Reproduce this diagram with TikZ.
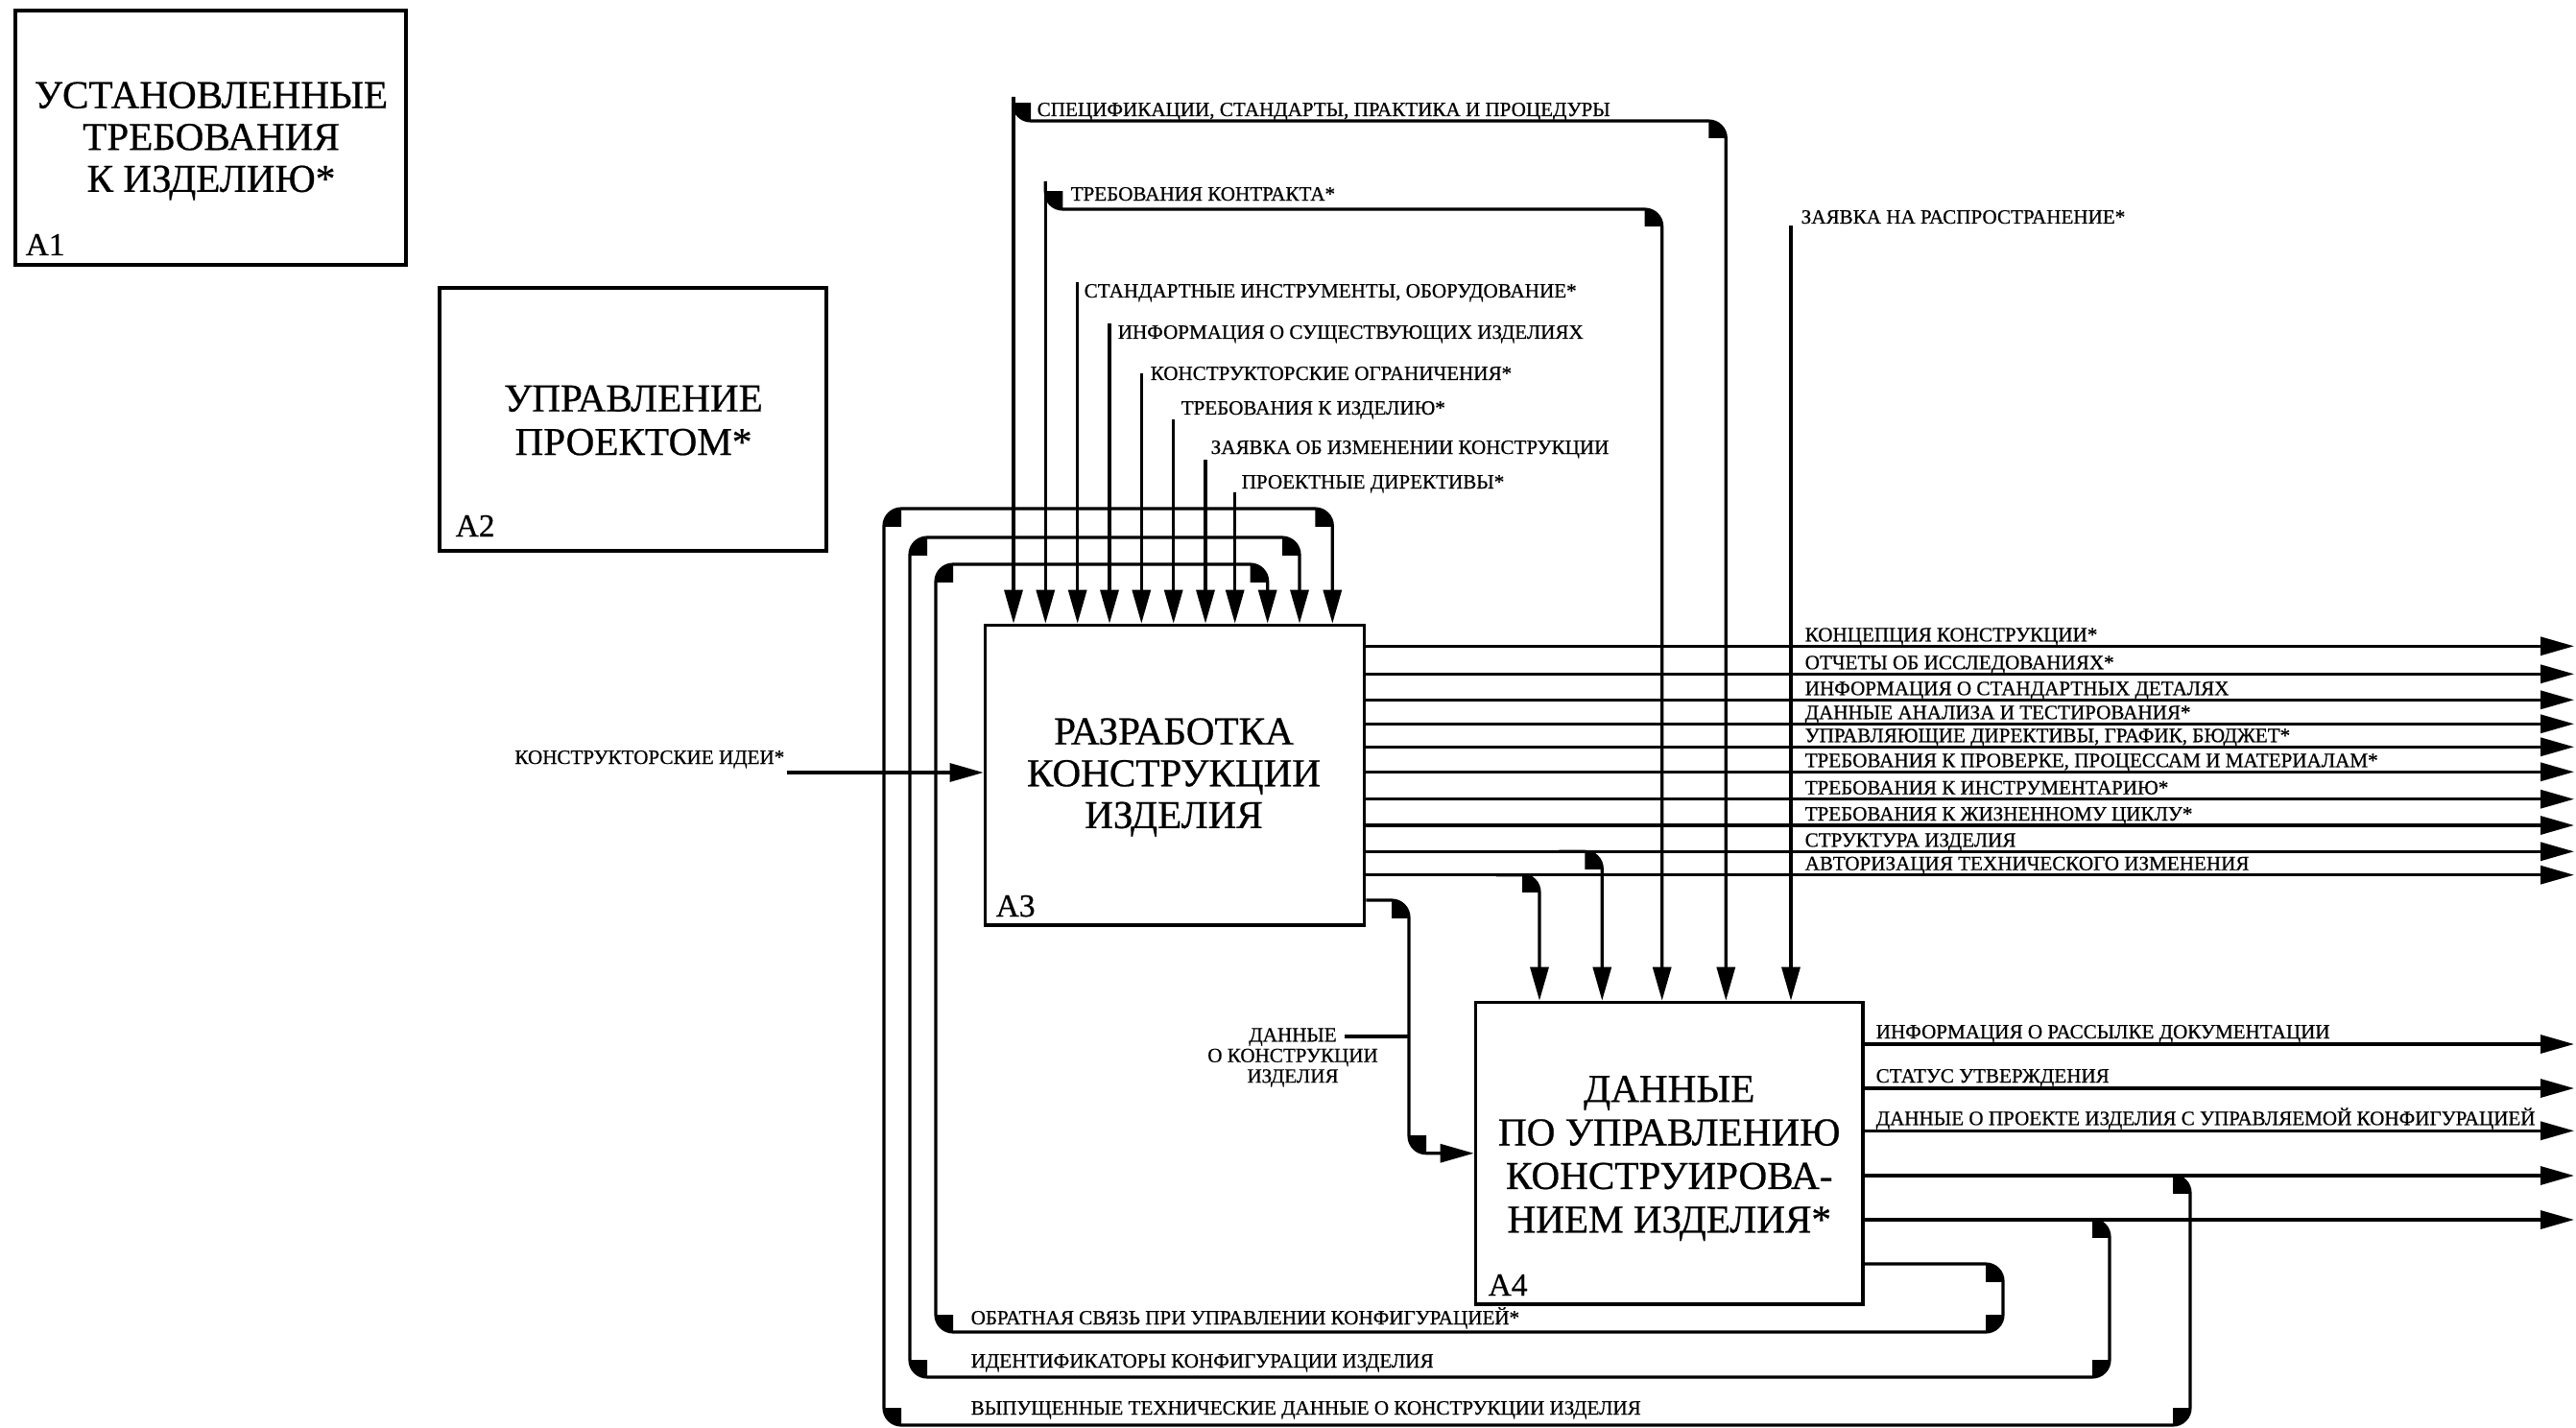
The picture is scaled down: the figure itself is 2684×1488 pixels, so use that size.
\documentclass[tikz,border=0pt]{standalone}
\usepackage{fontspec}
\setmainfont[FakeBold=0.6]{Liberation Serif}
\usetikzlibrary{arrows.meta}
\newcommand\lblf{\fontsize{6}{6.1}\selectfont}
\newcommand\ttlf{\fontsize{11.7}{12.4}\selectfont}
\newcommand\ttlfb{\fontsize{11.7}{12.9}\selectfont}
\newcommand\idf{\fontsize{9.5}{10}\selectfont}
% filled quarter disc inside a rounded corner: centre x,y ; corner x,y
\newcommand\blob[4]{\begin{scope}\clip (#1,#2) rectangle (#3,#4);\fill (#1,#2) circle[radius=0.18cm];\end{scope}}
\begin{document}
\begin{tikzpicture}[x=0.01cm,y=-0.01cm,
  box/.style={draw, line width=1pt, inner sep=0pt},
  ttl/.style={inner sep=0pt, align=center, font=\ttlf},
  idl/.style={anchor=base west, inner sep=0pt, font=\idf},
  lbl/.style={anchor=base west, inner sep=0pt, font=\lblf},
  ln/.style={line width=0.9pt},
  arr/.style={ln, -{Triangle[length=0.35cm,width=0.19cm]}},
  rc/.style={rounded corners=0.18cm}]
\fill[white] (0,0) rectangle (2684,1488);
\useasboundingbox (0,0) rectangle (2684,1488);

% ---------- boxes ----------
\node[box, minimum width=4.07cm, minimum height=2.65cm] (A1) at (219.5,143.5) {};
\node[box, minimum width=4.03cm, minimum height=2.74cm] (A2) at (659.5,437) {};
\node[box, minimum width=3.95cm, minimum height=3.125cm] (A3) at (1224,807.75) {};
\node[box, minimum width=4.035cm, minimum height=3.145cm] (A4) at (1739.25,1201.75) {};
\node[ttl] (t1) at (220,147) {УСТАНОВЛЕННЫЕ\\ТРЕБОВАНИЯ\\К ИЗДЕЛИЮ*};
\node[ttl, font=\ttlfb] (t2) at (660,438) {УПРАВЛЕНИЕ\\ПРОЕКТОМ*};
\node[ttl] (t3) at (1223,810) {РАЗРАБОТКА\\КОНСТРУКЦИИ\\ИЗДЕЛИЯ};
\node[ttl, font=\ttlfb] (t4) at (1739.25,1207) {ДАННЫЕ\\ПО УПРАВЛЕНИЮ\\КОНСТРУИРОВА-\\НИЕМ ИЗДЕЛИЯ*};
\node[idl] (id1) at (26,266) {A1};
\node[idl] (id2) at (474,559) {A2};
\node[idl] (id3) at (1037,955) {A3};
\node[idl] (id4) at (1550,1350) {A4};

% ---------- controls into A3 ----------
\coordinate (s1) at (1056,101);
\coordinate (s2) at (1089.3,189);
\coordinate (s3) at (1122.7,294);
\coordinate (s4) at (1156,337);
\coordinate (s5) at (1189.3,389);
\coordinate (s6) at (1222.7,437);
\coordinate (s7) at (1256,479);
\coordinate (s8) at (1286.7,513);
\foreach \k in {1,...,8} {\draw[arr] (s\k) -- (s\k |- A3.north);}
\node[lbl] (l1) at (1080,121) {СПЕЦИФИКАЦИИ, СТАНДАРТЫ, ПРАКТИКА И ПРОЦЕДУРЫ};
\node[lbl] (l2) at (1115,209) {ТРЕБОВАНИЯ КОНТРАКТА*};
\node[lbl] (l3) at (1129,310) {СТАНДАРТНЫЕ ИНСТРУМЕНТЫ, ОБОРУДОВАНИЕ*};
\node[lbl] (l4) at (1164,353) {ИНФОРМАЦИЯ О СУЩЕСТВУЮЩИХ ИЗДЕЛИЯХ};
\node[lbl] (l5) at (1198,396) {КОНСТРУКТОРСКИЕ ОГРАНИЧЕНИЯ*};
\node[lbl] (l6) at (1230,432) {ТРЕБОВАНИЯ К ИЗДЕЛИЮ*};
\node[lbl] (l7) at (1261,473) {ЗАЯВКА ОБ ИЗМЕНЕНИИ КОНСТРУКЦИИ};
\node[lbl] (l8) at (1293,509) {ПРОЕКТНЫЕ ДИРЕКТИВЫ*};

% branches of the first two controls to A4
\coordinate (j1) at (1798.3,126);
\coordinate (j2) at (1731.7,218);
\draw[arr, rc] (s1) |- (j1) -- (j1 |- A4.north);
\draw[arr, rc] (s2) |- (j2) -- (j2 |- A4.north);
\blob{1074}{108}{1056}{126}
\blob{1780.3}{144}{1798.3}{126}
\blob{1107.3}{200}{1089.3}{218}
\blob{1713.7}{236}{1731.7}{218}

% release request into A4
\coordinate (s9) at (1866,235);
\draw[arr] (s9) -- (s9 |- A4.north);
\node[lbl] (l9) at (1876,233) {ЗАЯВКА НА РАСПРОСТРАНЕНИЕ*};

% ---------- input to A3 ----------
\coordinate (in0) at (820,805);
\draw[arr] (in0) -- (in0 -| A3.west);
\node[anchor=base east, inner sep=0pt, font=\lblf] (lin) at (818,796) {КОНСТРУКТОРСКИЕ ИДЕИ*};

% ---------- outputs of A3 ----------
\foreach \y/\t [count=\i] in {673.3/{КОНЦЕПЦИЯ КОНСТРУКЦИИ*},
  702.3/{ОТЧЕТЫ ОБ ИССЛЕДОВАНИЯХ*},
  729.3/{ИНФОРМАЦИЯ О СТАНДАРТНЫХ ДЕТАЛЯХ},
  754.3/{ДАННЫЕ АНАЛИЗА И ТЕСТИРОВАНИЯ*},
  778.3/{УПРАВЛЯЮЩИЕ ДИРЕКТИВЫ, ГРАФИК, БЮДЖЕТ*},
  804.3/{ТРЕБОВАНИЯ К ПРОВЕРКЕ, ПРОЦЕССАМ И МАТЕРИАЛАМ*},
  832.7/{ТРЕБОВАНИЯ К ИНСТРУМЕНТАРИЮ*},
  860/{ТРЕБОВАНИЯ К ЖИЗНЕННОМУ ЦИКЛУ*},
  887.3/{СТРУКТУРА ИЗДЕЛИЯ},
  911.7/{АВТОРИЗАЦИЯ ТЕХНИЧЕСКОГО ИЗМЕНЕНИЯ}} {
  \coordinate (o\i) at (2682,\y);
  \draw[arr] (A3.east |- o\i) -- (o\i);
  \node[lbl] (ol\i) at (1880,\y-5) {\t};
}
% branches of two A3 outputs to A4
\coordinate (b1) at (1669.3,887.3);
\coordinate (b2) at (1604,911.7);
\draw[arr, rc] ([xshift=-0.45cm]b1) -- (b1) -- (b1 |- A4.north);
\draw[arr, rc] ([xshift=-0.45cm]b2) -- (b2) -- (b2 |- A4.north);
\blob{1651.3}{905.3}{1669.3}{887.3}
\blob{1586}{929.7}{1604}{911.7}

% design data A3 -> A4
\coordinate (d0) at (0,938);
\coordinate (d1) at (1468,938);
\coordinate (d2) at (1468,1201.75);
\draw[arr, rc] (A3.east |- d0) -- (d1) -- (d2) -- (A4.west);
\blob{1450}{956}{1468}{938}
\blob{1486}{1183.75}{1468}{1201.75}
\node[inner sep=0pt, align=center, font=\lblf] (ld) at (1347,1102) {ДАННЫЕ\\О КОНСТРУКЦИИ\\ИЗДЕЛИЯ};
\coordinate (q1) at (1401,1080);
\draw[ln] (q1) -- (q1 -| d1);

% ---------- outputs of A4 ----------
\foreach \y/\t [count=\i] in {1088/{ИНФОРМАЦИЯ О РАССЫЛКЕ ДОКУМЕНТАЦИИ},
  1134/{СТАТУС УТВЕРЖДЕНИЯ},
  1178.3/{ДАННЫЕ О ПРОЕКТЕ ИЗДЕЛИЯ С УПРАВЛЯЕМОЙ КОНФИГУРАЦИЕЙ},
  1225/{},
  1271/{}} {
  \coordinate (p\i) at (2682,\y);
  \draw[arr] (A4.east |- p\i) -- (p\i);
  \node[lbl] (pl\i) at (1954,\y-6) {\t};
}

% ---------- feedback loops ----------
% inner: configuration control feedback
\coordinate (i1) at (2087,1317);
\coordinate (i2) at (2087,1388);
\coordinate (i3) at (975,1388);
\coordinate (i4) at (975,588);
\coordinate (i5) at (1320.7,588);
\draw[arr, rc] (A4.east |- i1) -- (i1) -- (i2) -- (i3) -- (i4) -- (i5) -- (i5 |- A3.north);
\blob{2069}{1335}{2087}{1317}
\blob{2069}{1370}{2087}{1388}
\blob{993}{1370}{975}{1388}
\blob{993}{606}{975}{588}
\blob{1302.7}{606}{1320.7}{588}
\node[lbl] (fl1) at (1011,1380) {ОБРАТНАЯ СВЯЗЬ ПРИ УПРАВЛЕНИИ КОНФИГУРАЦИЕЙ*};

% middle: configuration identifiers
\coordinate (m0) at (2150,1271);
\coordinate (m1) at (2198,1271);
\coordinate (m2) at (2198,1435);
\coordinate (m3) at (948,1435);
\coordinate (m4) at (948,560);
\coordinate (m5) at (1354,560);
\draw[arr, rc] (m0) -- (m1) -- (m2) -- (m3) -- (m4) -- (m5) -- (m5 |- A3.north);
\blob{2180}{1289}{2198}{1271}
\blob{2180}{1417}{2198}{1435}
\blob{966}{1417}{948}{1435}
\blob{966}{578}{948}{560}
\blob{1336}{578}{1354}{560}
\node[lbl] (fl2) at (1011,1425) {ИДЕНТИФИКАТОРЫ КОНФИГУРАЦИИ ИЗДЕЛИЯ};

% outer: released engineering data
\coordinate (u0) at (2235,1225);
\coordinate (u1) at (2282,1225);
\coordinate (u2) at (2282,1485);
\coordinate (u3) at (921,1485);
\coordinate (u4) at (921,530);
\coordinate (u5) at (1388.3,530);
\draw[arr, rc] (u0) -- (u1) -- (u2) -- (u3) -- (u4) -- (u5) -- (u5 |- A3.north);
\blob{2264}{1243}{2282}{1225}
\blob{2264}{1467}{2282}{1485}
\blob{939}{1467}{921}{1485}
\blob{939}{548}{921}{530}
\blob{1370.3}{548}{1388.3}{530}
\node[lbl] (fl3) at (1011,1474) {ВЫПУЩЕННЫЕ ТЕХНИЧЕСКИЕ ДАННЫЕ О КОНСТРУКЦИИ ИЗДЕЛИЯ};
\end{tikzpicture}
\end{document}
